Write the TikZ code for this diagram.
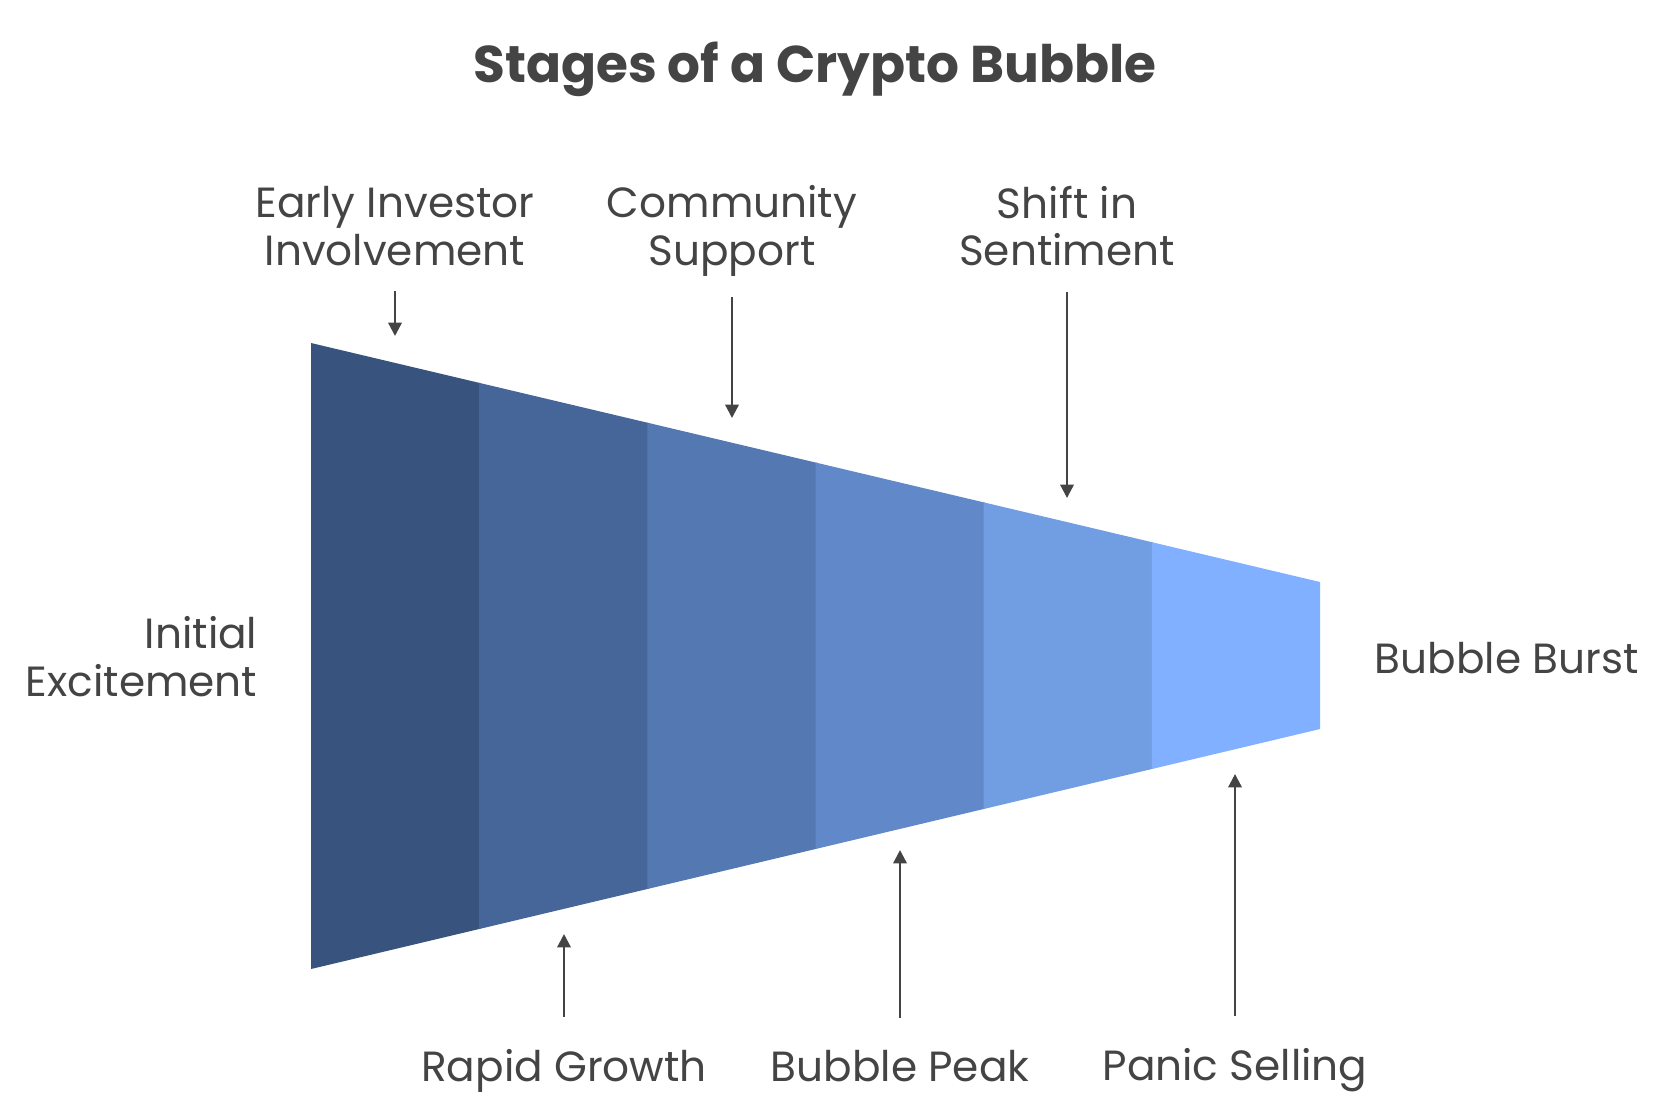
\documentclass[tikz,border=0pt]{standalone}
\usepackage{fontspec}
\setmainfont{Poppins}
\usetikzlibrary{arrows.meta, positioning, calc}
\definecolor{txtgray}{HTML}{444444}
\definecolor{segA}{HTML}{38547E}
\definecolor{segB}{HTML}{46669A}
\definecolor{segC}{HTML}{5478B2}
\definecolor{segD}{HTML}{6189C9}
\definecolor{segE}{HTML}{719DE2}
\definecolor{segF}{HTML}{80B0FF}

\begin{document}
\begin{tikzpicture}[x=0.01cm, y=-0.01cm, >={Triangle[length=3.8pt, width=3.8pt]},
  font=\fontsize{12}{13.6}\selectfont,
  lbl/.style={text=txtgray, align=center, inner sep=0pt},
  pointer/.style={->, draw=txtgray, line width=0.65pt}]
  \useasboundingbox (0,0) rectangle (1680,1112);

  % Nadpis
  \node[lbl, font=\fontsize{14.7}{17}\selectfont\bfseries] (title) at (815,69) {Stages of a Crypto Bubble};

  % Trychtyr ze sesti dilu (kazdy dil lehce prekryva dalsi)
  \foreach \c [count=\i from 0] in {segA,segB,segC,segD,segE,segF} {
    \pgfmathsetmacro{\xa}{311+\i*168.17}
    \pgfmathsetmacro{\xb}{min(311+(\i+1)*168.17+1.5, 1320)}
    \pgfmathsetmacro{\ta}{343+(\xa-311)*0.23687}
    \pgfmathsetmacro{\tb}{343+(\xb-311)*0.23687}
    \pgfmathsetmacro{\ba}{969-(\xa-311)*0.23786}
    \pgfmathsetmacro{\bb}{969-(\xb-311)*0.23786}
    \fill[\c] (\xa,\ta) -- (\xb,\tb) -- (\xb,\bb) -- (\xa,\ba) -- cycle;
  }

  % Popisky vlevo a vpravo
  \node[lbl, align=right, anchor=east] (initial) at (258,657) {Initial\\Excitement};
  \node[lbl, anchor=west] (burst) at (1374,658) {Bubble Burst};

  % Popisky nahore
  \node[lbl] (early) at (395,226) {Early Investor\\Involvement};
  \node[lbl] (community) at (732,231) {Community\\Support};
  \node[lbl] (shift) at (1067,226) {Shift in\\Sentiment};
  \coordinate (earlytip) at (395,336);
  \coordinate (communitytip) at (732,418);
  \coordinate (shifttip) at (1067,498);
  \draw[pointer, shorten <=7pt] (early.south) -- (earlytip);
  \draw[pointer, shorten <=5.6pt] (community.south) -- (communitytip);
  \draw[pointer, shorten <=7pt] (shift.south) -- (shifttip);

  % Popisky dole
  \node[lbl] (rapid) at (564,1070.5) {Rapid Growth};
  \node[lbl] (peak) at (900,1066) {Bubble Peak};
  \node[lbl] (panic) at (1235,1070.5) {Panic Selling};
  \coordinate (rapidtip) at (564,934);
  \coordinate (peaktip) at (900,850);
  \coordinate (panictip) at (1235,774);
  \draw[pointer, shorten <=9pt] (rapid.north) -- (rapidtip);
  \draw[pointer, shorten <=9pt] (peak.north) -- (peaktip);
  \draw[pointer, shorten <=9pt] (panic.north) -- (panictip);
\end{tikzpicture}
\end{document}
